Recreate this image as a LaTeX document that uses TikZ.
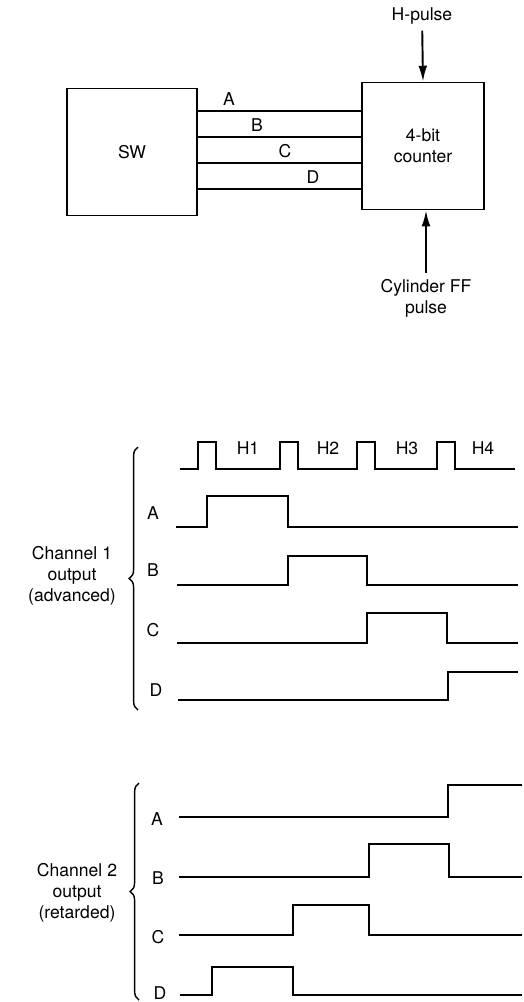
\documentclass[tikz,border=0pt]{standalone}
\usepackage{fontspec}
\setmainfont{TeX Gyre Heros}
\usetikzlibrary{arrows.meta,decorations.pathreplacing}
\tikzstyle{block}=[draw, line width=1.1pt, minimum width=2.6cm, minimum height=2.54cm, align=center]
\tikzstyle{wire}=[line width=1.1pt]
\tikzstyle{wave}=[line width=1.1pt, line join=miter]
\tikzstyle{feed}=[line width=1.1pt, -{Latex[length=9pt,width=5pt]}]
\tikzstyle{group}=[line width=0.8pt, decorate, decoration={brace, amplitude=5pt}]

\begin{document}
\begin{tikzpicture}[x=0.02cm, y=-0.02cm, font=\fontsize{10}{12}\selectfont]
	\useasboundingbox (0,0) rectangle (524,1002);

	% block diagram
	\node[block] (sw) at (132,152) {SW};
	\node[block, minimum width=2.44cm] (counter) at (423,146) {4-bit\\counter};
	\node (hpulse) at (422,16) {H-pulse};
	\node[align=center] (cylff) at (426,298) {Cylinder FF\\pulse};

	\draw[feed] (hpulse) -- (counter.north);
	\draw[feed] (cylff.north) -- (cylff.north |- counter.south);

	\foreach \y/\lab/\lx in {111/A/229, 137/B/257, 163/C/285, 189/D/313} {
		\draw[wire] (sw.east |- 0,\y) -- (counter.west |- 0,\y);
		\node (bus\lab) at (\lx,\y-12) {\lab};
	}

	% H pulses
	\draw[wave] (180,469) \foreach \t in {198,280,357,437} { -- (\t,469) -- (\t,442) -- (\t+18,442) -- (\t+18,469) } -- (515,469);
	\foreach \n/\x in {1/248,2/328,3/407,4/483}
		\node (h\n) at (\x,448) {H\n};

	% channel 1
	\draw[wave] (176,527) -- (207,527) -- (207,496) -- (288,496) -- (288,527) -- (518,527);
	\draw[wave] (177,585) -- (288,585) -- (288,556) -- (367,556) -- (367,585) -- (518,585);
	\draw[wave] (177,643) -- (367,643) -- (367,613) -- (447,613) -- (447,643) -- (518,643);
	\draw[wave] (178,700) -- (448,700) -- (448,672) -- (518,672);

	\node (onea) at (153,513) {A};
	\node (oneb) at (153,570) {B};
	\node (onec) at (153,630) {C};
	\node (oned) at (156,690) {D};

	\draw[group] (138,710) -- (138,447);
	\node[align=center] (chone) at (72,576) {Channel 1\\output\\(advanced)};

	% channel 2
	\draw[wave] (179,817) -- (448,817) -- (448,785) -- (522,785);
	\draw[wave] (179,877) -- (369,877) -- (369,844) -- (449,844) -- (449,877) -- (522,877);
	\draw[wave] (179,935) -- (293,935) -- (293,905) -- (369,905) -- (369,935) -- (522,935);
	\draw[wave] (180,995) -- (212,995) -- (212,967) -- (293,967) -- (293,995) -- (522,995);

	\node (twoa) at (157,819) {A};
	\node (twob) at (158,878) {B};
	\node (twoc) at (158,937) {C};
	\node (twod) at (160,993) {D};

	\draw[group] (139,1000) -- (139,783);
	\node[align=center] (chtwo) at (77,893) {Channel 2\\output\\(retarded)};
\end{tikzpicture}
\end{document}
